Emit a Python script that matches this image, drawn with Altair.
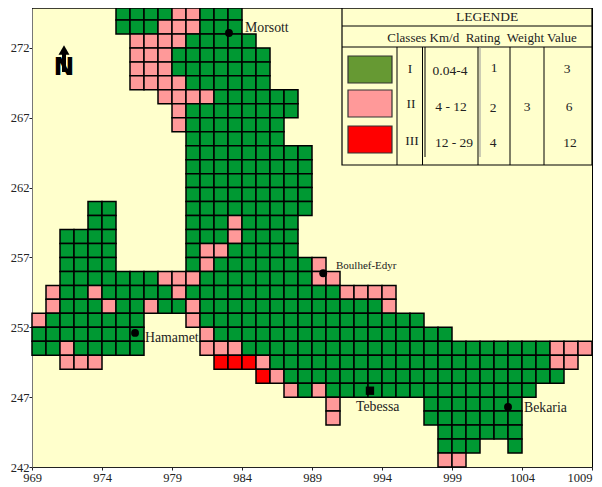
import altair as alt
import pandas as pd

# Cell rows: (lower northing, first easting, classes). G = I, P = II, R = III
ROWS = [
    (274, 975, "GGGGPPGGG"), (273, 975, "GGGPPPGGG"),
    (272, 976, "PPPPGGGGG"), (271, 976, "PPPGGGGGGG"), (270, 976, "PPPGGGGGGG"),
    (269, 976, "PPPPGGGGGG"), (268, 978, "PPPPGGGGGG"),
    (267, 979, "PGGGGGGGG"), (266, 979, "PGGGGGGG"), (265, 980, "GGGGGGG"),
    (264, 980, "GGGGGGGGG"), (263, 980, "GGGGGGGGG"), (262, 980, "GGGGGGGGG"),
    (261, 980, "GGGGGGGGG"), (260, 973, "GG"), (260, 980, "GGGGGGGGG"),
    (259, 973, "GG"), (259, 980, "GGGPGGGG"),
    (258, 971, "GGGG"), (258, 980, "GGGPGGGG"),
    (257, 971, "GGGG"), (257, 980, "GPPGGGGG"),
    (256, 971, "GGGG"), (256, 980, "GPGGGGGGGP"),
    (255, 971, "GGGGGGGPPPGGGGGGGGPP"),
    (254, 970, "PGGPGGGGGPGGGGGGGGGGGPPPP"),
    (253, 970, "PGGGPGGPGGPGGGGGGGGGGGGGP"),
    (252, 969, "PGGGGGGG"), (252, 980, "PGGGGGGGGGGGGGGGG"),
    (251, 969, "GGGGGGGG"), (251, 981, "PGGGGGGGGGGGGGGGGG"),
    (250, 969, "GGPGGGGG"), (250, 981, "PPPGGGGGGGGGGGGGGGGGGGGGGPPP"),
    (249, 971, "PPP"), (249, 982, "RRRPGGGGGGGGGGGGGGGGGGGGPP"),
    (248, 985, "RPGGGGGGGGGGGGGGGGGGGG"),
    (247, 987, "PGPGGGGGGGGGGGGGGG"),
    (246, 990, "P"), (246, 997, "GGGGGGG"),
    (245, 990, "P"), (245, 997, "GGGGGGG"),
    (244, 998, "GGGGGG"), (243, 998, "GGG"), (243, 1003, "G"), (242, 998, "PP"),
]
CLASS_COLORS = {"G": "#009933", "P": "#FF9999", "R": "#FF0000"}
X_TICKS = [969, 974, 979, 984, 989, 994, 999, 1004, 1009]
Y_TICKS = [242, 247, 252, 257, 262, 267, 272]
TOWNS = ["Morsott", "Hamamet", "Boulhef-Edyr", "Bekaria"]
TOWN_E = [983.07, 976.36, 989.8, 1003.0]
TOWN_N = [273.07, 251.6, 255.87, 246.3]
CITY = ["Tebessa"]
CITY_E = [993.14]
CITY_N = [247.46]

X0, X1, Y0, Y1 = 969, 1009, 242, 275
W, H = 560, 461
FONT = "Liberation Serif"
INK = "#222222"


def ex(px):
    return X0 + (px - 32) / (W / (X1 - X0))


def ny(py):
    return Y0 + (467 - py) / (H / (Y1 - Y0))


cells = pd.DataFrame(
    [
        {"e": s + i, "e2": s + i + 1, "n": n, "n2": n + 1, "c": c}
        for n, s, txt in ROWS
        for i, c in enumerate(txt)
    ]
)

xs = alt.Scale(domain=[X0, X1], nice=False, zero=False)
ys = alt.Scale(domain=[Y0, Y1], nice=False, zero=False)
X = alt.X("e:Q", scale=xs, title=None, axis=alt.Axis(
    values=X_TICKS, format="d", grid=False, labelFont=FONT, labelFontSize=12.5, labelColor=INK,
    labelAlign=alt.expr("datum.value == 1009 ? 'right' : 'center'"),
    tickColor="#222", domainColor="#222", tickSize=3, labelPadding=1, labelFlush=False, labelOverlap=False))
Y = alt.Y("n:Q", scale=ys, title=None, axis=alt.Axis(
    values=Y_TICKS, format="d", grid=False, labelFont=FONT, labelFontSize=12.5, labelColor=INK,
    tickColor="#222", domainColor="#777", tickSize=3, labelPadding=0, labelOverlap=False))

cell_layer = alt.Chart(cells).mark_rect(stroke="black", strokeWidth=1.5).encode(
    x=X, x2="e2:Q", y=Y, y2="n2:Q",
    color=alt.Color("c:N", legend=None, scale=alt.Scale(
        domain=list(CLASS_COLORS), range=list(CLASS_COLORS.values()))),
)

towns = pd.DataFrame({"e": TOWN_E, "n": TOWN_N, "name": TOWNS})
town_layer = alt.Chart(towns).mark_circle(color="black", opacity=1, size=62).encode(
    x=alt.X("e:Q", scale=xs), y=alt.Y("n:Q", scale=ys))
city = pd.DataFrame({"e": CITY_E, "n": CITY_N})
city_layer = alt.Chart(city).mark_square(color="black", opacity=1, size=70).encode(
    x=alt.X("e:Q", scale=xs), y=alt.Y("n:Q", scale=ys))


def texts(rows, size=12, align="center", color=INK, font=FONT, weight="normal"):
    df = pd.DataFrame([{"e": ex(a), "n": ny(b), "t": t} for a, b, t in rows])
    return alt.Chart(df).mark_text(
        font=font, fontSize=size, align=align, baseline="middle", color=color, fontWeight=weight
    ).encode(x=alt.X("e:Q", scale=xs), y=alt.Y("n:Q", scale=ys), text="t:N")


def lines(rows, width=1.0, color="black"):
    df = pd.DataFrame([
        {"e": ex(a), "e2": ex(c), "n": ny(b), "n2": ny(d)} for a, b, c, d in rows
    ])
    return alt.Chart(df).mark_rule(color=color, strokeWidth=width).encode(
        x=alt.X("e:Q", scale=xs), x2="e2:Q", y=alt.Y("n:Q", scale=ys), y2="n2:Q")


def boxes(rows, stroke="#333333"):
    df = pd.DataFrame([
        {"e": ex(a), "e2": ex(c), "n": ny(b), "n2": ny(d), "f": f} for a, b, c, d, f in rows
    ])
    return alt.Chart(df).mark_rect(stroke=stroke, strokeWidth=1.2).encode(
        x=alt.X("e:Q", scale=xs), x2="e2:Q", y=alt.Y("n:Q", scale=ys), y2="n2:Q",
        fill=alt.Fill("f:N", scale=None))


labels = texts([(245, 28, "Morsott"), (145, 338, "Hamamet"),
                (356, 407, "Tebessa"), (524, 408, "Bekaria")], 13.8, "left")
label_small = texts([(336, 266, "Boulhef-Edyr")], 11, "left")

legend_bg = boxes([(342, 6, 592, 165, "#FFFFCC")], stroke="black")
legend_lines = lines([
    (342, 26, 592, 26), (342, 47, 592, 47),
    (397, 47, 397, 165), (422.5, 47, 422.5, 165), (425, 47, 425, 157),
    (478, 47, 478, 165), (510, 47, 510, 165), (544, 47, 544, 165),
])
legend_lines2 = lines([(480, 47, 480, 157)], 1, "#999999")
swatches = boxes([
    (348, 56, 392, 83, "#669933"),
    (348, 90, 392, 117, "#FF9999"),
    (348, 126, 392, 153, "#FF0000"),
])
legend_title = texts([(487, 17, "LEGENDE")], 13.5)
legend_head = texts([(482, 38, "Classes Km/d\u00a0\u00a0Rating\u00a0\u00a0Weight Value")], 13)
legend_body = texts([
    (410, 69, "I"), (411, 104, "II"), (412, 141, "III"),
    (450, 71, "0.04-4"), (451, 107, "4 - 12"), (454, 143, "12 - 29"),
    (494, 68, "1"), (493, 108, "2"), (493, 143, "4"),
    (527, 107, "3"), (567, 69, "3"), (569, 107, "6"), (570, 143, "12"),
], 13.5)

arrow_stem = lines([(64, 52, 64, 72)], 4)
arrow_head = alt.Chart(pd.DataFrame({"e": [ex(64)], "n": [ny(50)]})).mark_point(
    shape="triangle-up", filled=True, color="black", opacity=1, size=120
).encode(x=alt.X("e:Q", scale=xs), y=alt.Y("n:Q", scale=ys))
north = texts([(64, 67, "N")], 25, color="black", font="DejaVu Sans", weight="bold")

top_edge = lines([(32, 8, 592, 8)], 1.5)

chart = alt.layer(
    cell_layer, town_layer, city_layer, labels, label_small,
    legend_bg, legend_lines, legend_lines2, swatches, legend_title, legend_head, legend_body,
    north, arrow_stem, arrow_head, top_edge,
).properties(
    width=W, height=H,
    background="white",
    autosize=alt.AutoSizeParams(type="none"),
    padding={"left": 24, "top": -2, "right": 2, "bottom": 18},
).configure_view(fill="#FFFFCC", stroke="black", strokeWidth=1)

chart.save("out.html", embed_options={"renderer": "svg", "actions": False})
